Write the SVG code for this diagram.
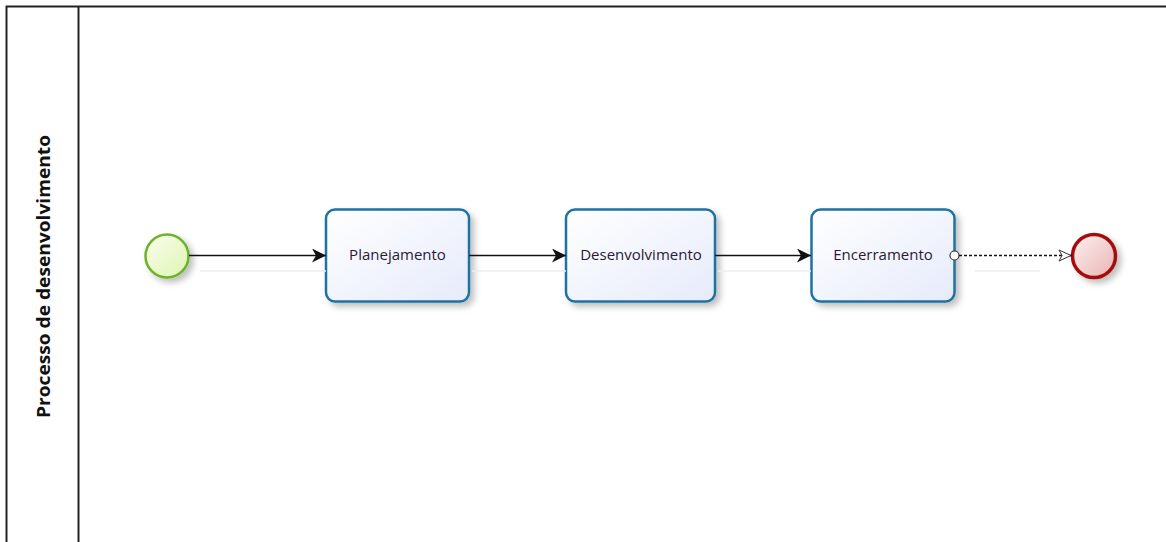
<svg xmlns="http://www.w3.org/2000/svg" width="1166" height="542" viewBox="0 0 1166 542">
<style>
.task{fill:url(#gTask);stroke:#1f73a3;stroke-width:2.5}
.tl{font-family:"Open Sans","Liberation Sans",sans-serif;font-size:15px;fill:#2a1a33;text-anchor:middle;dominant-baseline:central}
.flow{stroke:#111;stroke-width:1.3;fill:none}
.refl{stroke:#eeeeee;stroke-width:1.5}
</style>
<defs>
<linearGradient id="gTask" x1="0" y1="0" x2="1" y2="1"><stop offset="0" stop-color="#ffffff"/><stop offset="1" stop-color="#e6ebfb"/></linearGradient>
<linearGradient id="gStart" x1="0" y1="0" x2="1" y2="1"><stop offset="0" stop-color="#fbfdef"/><stop offset="1" stop-color="#def5b0"/></linearGradient>
<linearGradient id="gEnd" x1="0" y1="0" x2="1" y2="1"><stop offset="0" stop-color="#fdf1f1"/><stop offset="1" stop-color="#eab3b3"/></linearGradient>
<filter id="sh" x="-30%" y="-30%" width="170%" height="170%"><feDropShadow dx="4" dy="4" stdDeviation="3" flood-color="#000" flood-opacity="0.25"/></filter>
<marker id="ah" viewBox="0 0 14 14" refX="14" refY="7" markerWidth="14" markerHeight="14" markerUnits="userSpaceOnUse" orient="auto"><path d="M0,0 L14,7 L0,14 L4,7 Z" fill="#111"/></marker>
<marker id="oh" viewBox="0 0 14 14" refX="14" refY="7" markerWidth="14" markerHeight="14" markerUnits="userSpaceOnUse" orient="auto"><path d="M1,1.5 L13,7 L1,12.5 L4,7 Z" fill="#fff" stroke="#333" stroke-width="1"/></marker>
</defs>
<g id="pool">
<rect x="6.5" y="6.5" width="1180" height="560" fill="#fff" stroke="#222" stroke-width="2"/>
<line x1="78.5" y1="6.5" x2="78.5" y2="542" stroke="#222" stroke-width="2"/>
<text x="0" y="0" transform="translate(50,276.5) rotate(-90)" font-family="'Open Sans','Liberation Sans',sans-serif" font-weight="bold" font-size="17.5" fill="#111" text-anchor="middle" textLength="283" lengthAdjust="spacingAndGlyphs">Processo de desenvolvimento</text>
</g>
<g id="start"><circle cx="167" cy="256" r="21.5" fill="url(#gStart)" stroke="#6db32b" stroke-width="2.5" filter="url(#sh)"/></g>
<g id="t1"><rect class="task" x="326" y="209.5" width="143" height="92" rx="9" filter="url(#sh)"/><text class="tl" x="397.5" y="254">Planejamento</text></g>
<g id="t2"><rect class="task" x="566" y="209.5" width="149" height="92" rx="9" filter="url(#sh)"/><text class="tl" x="641" y="254">Desenvolvimento</text></g>
<g id="t3"><rect class="task" x="811.5" y="209.5" width="143" height="92" rx="9" filter="url(#sh)"/><text class="tl" x="883" y="254">Encerramento</text></g>
<g id="end"><circle cx="1094" cy="256" r="21.5" fill="url(#gEnd)" stroke="#a50f0f" stroke-width="3.5" filter="url(#sh)"/></g>
<g id="connectors">
<line class="refl" x1="200" y1="271" x2="326" y2="271"/>
<line class="refl" x1="472" y1="271" x2="566" y2="271"/>
<line class="refl" x1="718" y1="271" x2="811" y2="271"/>
<line class="refl" x1="975" y1="271" x2="1040" y2="271"/>
<line class="flow" x1="189" y1="255.5" x2="326" y2="255.5" marker-end="url(#ah)"/>
<line class="flow" x1="469" y1="255.5" x2="566" y2="255.5" marker-end="url(#ah)"/>
<line class="flow" x1="715" y1="255.5" x2="811" y2="255.5" marker-end="url(#ah)"/>
<line class="flow" x1="959" y1="255.5" x2="1072" y2="255.5" stroke-dasharray="3,2" marker-end="url(#oh)"/>
<circle cx="954.5" cy="255.5" r="4.5" fill="#fff" stroke="#333" stroke-width="1.2"/>
</g>
</svg>
